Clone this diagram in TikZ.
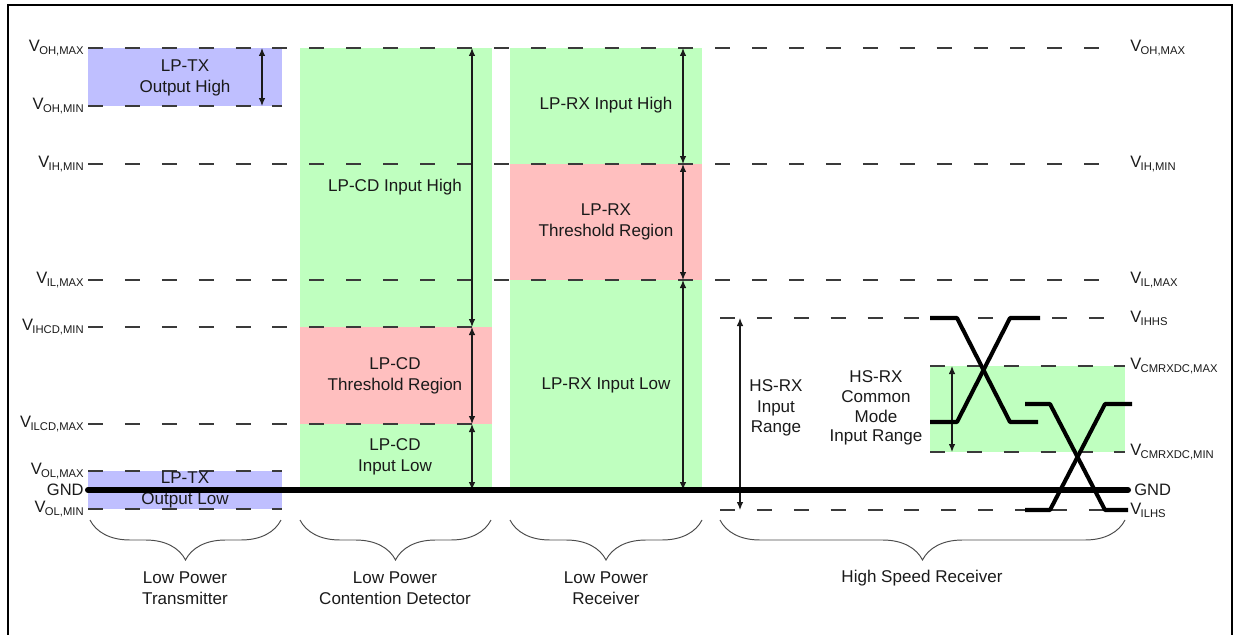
\documentclass[tikz,border=0pt]{standalone}
\usepackage{fontspec}
\setmainfont{Liberation Sans}
\usepackage{xcolor}
\definecolor{cTx}{HTML}{BFBFFF}
\definecolor{cOk}{HTML}{BFFFBF}
\definecolor{cThr}{HTML}{FFBFBF}
\definecolor{cInk}{HTML}{1A1A1A}
\definecolor{cLine}{HTML}{3A3A3A}
\usetikzlibrary{arrows.meta,decorations.pathreplacing}
\newcommand{\vlev}[1]{V\kern-0.04em\raisebox{-0.35ex}{\fontsize{6.4}{6.4}\selectfont #1}}
\tikzset{
  zone-tx/.style={fill=cTx},
  zone-ok/.style={fill=cOk},
  zone-thr/.style={fill=cThr},
  level/.style={draw=cLine,line width=0.8pt,dash pattern=on 8.5pt off 12.5pt},
  span-arrow/.style={{Latex[length=1.6mm,width=1.3mm]}-{Latex[length=1.6mm,width=1.3mm]},
    draw=cInk,line width=0.6pt},
  wave/.style={draw=black,line width=2.3pt,line join=round},
  gnd-bar/.style={draw=black,line width=3.4pt,line cap=round},
  group-brace/.style={decorate,decoration={brace,amplitude=0.8cm},
    draw=black!70,line width=0.55pt},
  zone-text/.style={align=center,text=cInk,inner sep=0pt,
    font=\fontsize{9.7}{11.8}\selectfont},
  lev-l/.style={anchor=east,text=cInk,inner sep=0pt,font=\fontsize{9.4}{11}\selectfont},
  lev-r/.style={anchor=west,text=cInk,inner sep=0pt,font=\fontsize{9.4}{11}\selectfont},
}

\begin{document}
\begin{tikzpicture}[x=0.02cm,y=-0.02cm]
  \useasboundingbox (0,0) rectangle (1237,635);
  % coloured regions
  \fill[zone-tx]  (88,48)   rectangle (282,106);
  \fill[zone-tx]  (88,471)  rectangle (282,509);
  \fill[zone-ok]  (300,48)  rectangle (492,490);
  \fill[zone-thr] (300,327) rectangle (492,424);
  \fill[zone-ok]  (510,48)  rectangle (702,490);
  \fill[zone-thr] (510,164) rectangle (702,280);
  \fill[zone-ok]  (930,366) rectangle (1125,452);
  % level lines
  \foreach \y/\xa/\xb in {48/88/1118, 106/88/282, 164/88/1118, 280/88/1118,
      327/88/492, 424/88/492, 471/88/282, 509/88/282,
      318/720/1118, 366/930/1125, 452/930/1125, 510/720/1118}
    \draw[level] (\xa,\y) -- (\xb,\y);
  % level names
  \foreach \nm/\y/\s in {ohmax/48/{OH,MAX}, ohmin/106/{OH,MIN}, ihmin/164/{IH,MIN},
      ilmax/280/{IL,MAX}, ihcd/327/{IHCD,MIN}, ilcd/424/{ILCD,MAX},
      olmax/471/{OL,MAX}, olmin/509/{OL,MIN}}
    \node[lev-l] (l-\nm) at (84,\y) {\vlev{\s}};
  \node[lev-l] (l-gnd) at (84,490) {GND};
  \foreach \nm/\y/\s in {ohmax/48/{OH,MAX}, ihmin/164/{IH,MIN}, ilmax/280/{IL,MAX},
      ihhs/318/{IHHS}, cmmax/366/{CMRXDC,MAX}, cmmin/452/{CMRXDC,MIN},
      ilhs/510/{ILHS}}
    \node[lev-r] (r-\nm) at (1130,\y) {\vlev{\s}};
  \node[lev-r] (r-gnd) at (1134,490) {GND};
  % range arrows
  \foreach \nm/\x/\ya/\yb in {tx/262/48/106, cd1/472/48/327, cd2/472/327/424,
      cd3/472/424/490, rx1/683/48/164, rx2/683/164/280, rx3/683/280/490,
      hs/740/318/510, cm/952/366/452}{
    \coordinate (\nm-a) at (\x,\ya);
    \coordinate (\nm-b) at (\x,\yb);
    \draw[span-arrow] (\nm-a) -- (\nm-b);
  }
  % region texts
  \node[zone-text] (txh) at (185,78)  {LP-TX\\Output High};
  \node[zone-text] (txl) at (185,490) {LP-TX\\Output Low};
  \node[zone-text] (cdh) at (395,187) {LP-CD Input High};
  \node[zone-text] (cdt) at (395,376) {LP-CD\\Threshold Region};
  \node[zone-text] (cdl) at (395,457) {LP-CD\\Input Low};
  \node[zone-text] (rxh) at (606,105) {LP-RX Input High};
  \node[zone-text] (rxt) at (606,222) {LP-RX\\Threshold Region};
  \node[zone-text] (rxl) at (606,385) {LP-RX Input Low};
  \node[zone-text] (hsr) at (776,408) {HS-RX\\Input\\Range};
  \node[zone-text,font=\fontsize{9.7}{11.2}\selectfont] (cmr) at (876,408)
    {HS-RX\\Common\\Mode\\Input Range};
  % ground
  \draw[gnd-bar] (88,490) -- (1128,490);
  % differential signals
  \draw[wave] (930,318) -- (957,318) -- (1010,422) -- (1038,422);
  \draw[wave] (930,422) -- (957,422) -- (1010,318) -- (1040,318);
  \draw[wave] (1025,404) -- (1050,404) -- (1105,510) -- (1128,510);
  \draw[wave] (1025,510) -- (1050,510) -- (1105,404) -- (1132,404);
  % groups
  \draw[group-brace] (281,520) -- (90,520);
  \draw[group-brace] (491,520) -- (300,520);
  \draw[group-brace] (702,520) -- (510,520);
  \draw[group-brace] (1125,520) -- (720,520);
  \node[zone-text] (g-tx) at (185,588) {Low Power\\Transmitter};
  \node[zone-text] (g-cd) at (395,588) {Low Power\\Contention Detector};
  \node[zone-text] (g-rx) at (606,588) {Low Power\\Receiver};
  \node[zone-text] (g-hs) at (922,578) {High Speed Receiver};
  % frame
  \draw[line width=1.1pt] (8,635) -- (8,5) -- (1232,5) -- (1232,635);
\end{tikzpicture}
\end{document}
